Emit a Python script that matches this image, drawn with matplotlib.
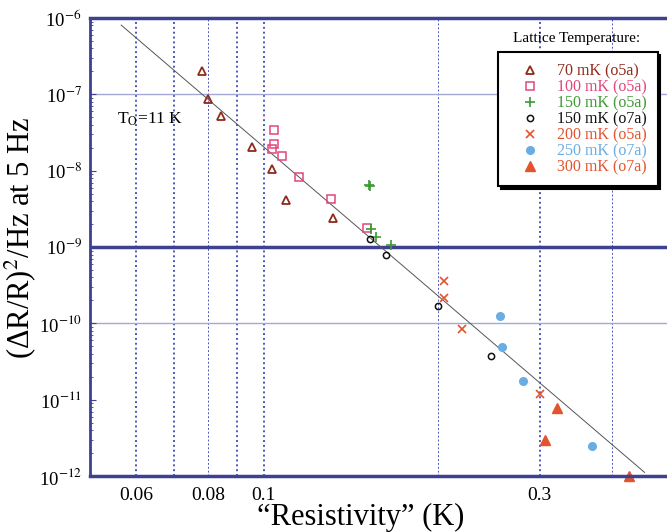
import matplotlib.pyplot as plt

plt.rcParams['font.family'] = ['Liberation Serif', 'DejaVu Serif']
plt.rcParams['mathtext.fontset'] = 'stix'

# "Resistivity" (K) vs (dR/R)^2/Hz at 5 Hz, one pair of lists per run
x_70 = [0.0781, 0.0800, 0.0842, 0.0952, 0.1031, 0.1092, 0.1315]
y_70 = [2.02e-7, 8.8e-8, 5.15e-8, 2.04e-8, 1.04e-8, 4.1e-9, 2.4e-9]

x_100 = [0.1042, 0.1042, 0.1031, 0.1073, 0.1152, 0.1304, 0.1507]
y_100 = [3.4e-8, 2.23e-8, 1.92e-8, 1.58e-8, 8.4e-9, 4.3e-9, 1.77e-9]

x_150a = [0.1520, 0.1527, 0.1532, 0.1564, 0.1657]
y_150a = [6.6e-9, 6.35e-9, 1.73e-9, 1.36e-9, 1.06e-9]

x_150b = [0.1525, 0.1628, 0.2000, 0.2477]
y_150b = [1.26e-9, 7.8e-10, 1.68e-10, 3.8e-11]

x_200 = [0.2050, 0.2050, 0.2200, 0.3003]
y_200 = [3.6e-10, 2.14e-10, 8.4e-11, 1.19e-11]

x_250 = [0.2563, 0.2584, 0.2810, 0.3705]
y_250 = [1.26e-10, 4.9e-11, 1.78e-11, 2.5e-12]

x_300 = [0.3214, 0.3070, 0.4286]
y_300 = [7.8e-12, 2.95e-12, 1.0e-12]

# T0 = 11 K fit line end points
fit_x = [0.0566, 0.456]
fit_y = [8.1e-7, 1.12e-12]

labels = ['70 mK (o5a)', '100 mK (o5a)', '150 mK (o5a)', '150 mK (o7a)',
          '200 mK (o5a)', '250 mK (o7a)', '300 mK (o7a)']
colors = ['#8e2b1c', '#e2457c', '#3d9a34', '#111111', '#e5532e', '#6aade2', '#e5532e']

x_ticks = [0.06, 0.08, 0.1, 0.3]
x_ticklabels = ['0.06', '0.08', '0.1', '0.3']
y_ticks = [1e-12, 1e-11, 1e-10, 1e-9, 1e-8, 1e-7, 1e-6]
y_ticklabels = ['10$^{-12}$', '10$^{-11}$', '10$^{-10}$', '10$^{-9}$',
                '10$^{-8}$', '10$^{-7}$', '10$^{-6}$']
vgrid_thick = [0.06, 0.07, 0.09, 0.1, 0.3]
vgrid_thin = [0.08, 0.2, 0.4]

fig = plt.figure(figsize=(6.67, 5.32), dpi=100)
ax = fig.add_axes([0.135, 0.105, 0.866, 0.861])
ax.set_xscale('log')
ax.set_yscale('log')
ax.set_xlim(0.05, 0.5)
ax.set_ylim(1e-12, 1e-6)

grid_blue = '#4f57b8'
dark_blue = '#3d418f'
for v in vgrid_thick:
    ax.axvline(v, color=grid_blue, lw=1.4, ls=(0, (1, 1.5)), zorder=0)
for v in vgrid_thin:
    ax.axvline(v, color=grid_blue, lw=0.7, ls=(0, (2, 2)), zorder=0)
ax.axhline(1e-7, color='#a3a8d6', lw=1.0, zorder=0)
ax.axhline(1e-10, color='#a3a8d6', lw=1.0, zorder=0)
ax.axhline(1e-9, color=dark_blue, lw=2.5, zorder=0)

ax.plot(fit_x, fit_y, color='#555555', lw=0.7, zorder=1)

h = []
h += ax.plot(x_70, y_70, '^', ms=5.5, mfc='none', mec=colors[0], mew=1.3, ls='none')
h += ax.plot(x_100, y_100, 's', ms=6, mfc='none', mec=colors[1], mew=1.1, ls='none')
h += ax.plot(x_150a, y_150a, '+', ms=7, mec=colors[2], mew=1.2, ls='none')
h += ax.plot(x_150b, y_150b, 'o', ms=4.5, mfc='none', mec=colors[3], mew=1.1, ls='none')
h += ax.plot(x_200, y_200, 'x', ms=6, mec=colors[4], mew=1.2, ls='none')
h += ax.plot(x_250, y_250, 'o', ms=5.5, mfc=colors[5], mec=colors[5], ls='none')
h += ax.plot(x_300, y_300, '^', ms=7, mfc=colors[6], mec=colors[6], ls='none', clip_on=False)

for s in ['top', 'bottom']:
    ax.spines[s].set_color(dark_blue)
    ax.spines[s].set_linewidth(2.5)
ax.spines['left'].set_color(dark_blue)
ax.spines['left'].set_linewidth(2)
ax.spines['right'].set_visible(False)

ax.set_xticks(x_ticks)
ax.set_xticklabels(x_ticklabels, fontsize=14)
ax.set_xticks([], minor=True)
ax.tick_params(axis='x', which='both', length=0, pad=8)
ax.set_yticks(y_ticks)
ax.set_yticklabels(y_ticklabels, fontsize=13.5)
ax.tick_params(axis='y', which='major', direction='in', length=4, color=dark_blue, pad=6)
ax.tick_params(axis='y', which='minor', direction='in', length=2.5, color=dark_blue)

ax.set_xlabel('\u201cResistivity\u201d (K)', fontsize=22)
ax.xaxis.set_label_coords(0.468, -0.058)
ax.set_ylabel('(\u0394R/R)$^2$/Hz at 5 Hz', fontsize=22)
ax.yaxis.set_label_coords(-0.09, 0.52)

ax.text(0.047, 0.77, 'T$_\\mathrm{O}$=11 K', transform=ax.transAxes, fontsize=12.5)

leg = ax.legend(h, labels, loc='upper left', bbox_to_anchor=(0.707, 0.926),
                borderaxespad=0, fontsize=11.5, labelspacing=0.0, handlelength=2.5,
                handletextpad=0.45, frameon=True, fancybox=False,
                shadow={'color': 'black', 'alpha': 1}, borderpad=0.7)
leg.get_frame().set_edgecolor('black')
leg.get_frame().set_linewidth(1.5)
for t, c in zip(leg.get_texts(), colors):
    t.set_color(c)
ax.text(0.842, 0.956, 'Lattice Temperature:', transform=ax.transAxes,
        fontsize=11, ha='center', va='center')

fig.savefig('out.png', dpi=100)
